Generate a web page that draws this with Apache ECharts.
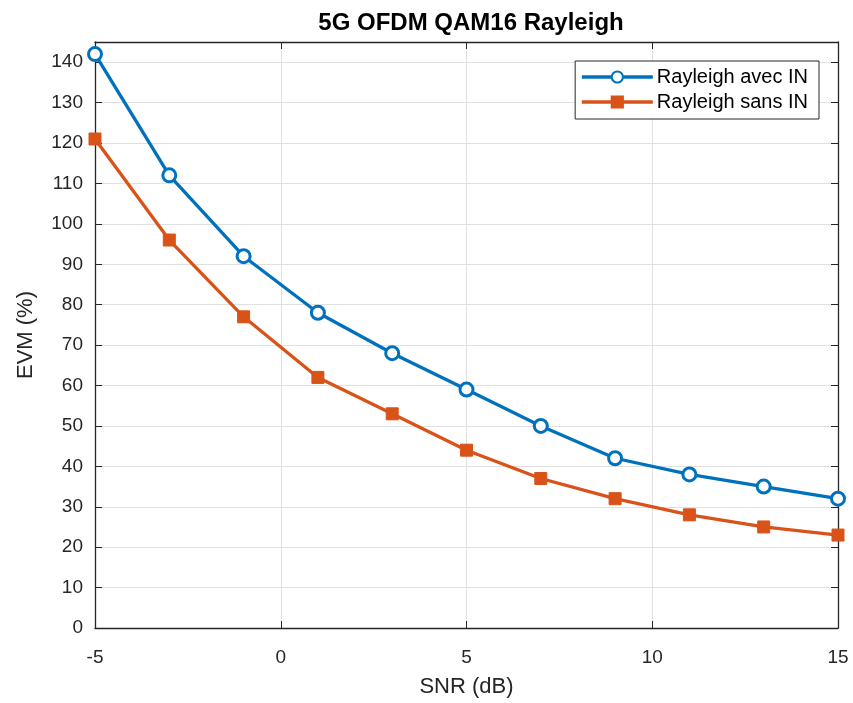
<!DOCTYPE html>
<html>
<head>
<meta charset="utf-8">
<script src="https://cdn.jsdelivr.net/npm/echarts@6/dist/echarts.min.js"></script>
<style>
  html, body { margin: 0; padding: 0; background: #fff; }
  #chart { width: 853px; height: 703px; }
</style>
</head>
<body>
<div id="chart"></div>
<script>
// SNR sample points (dB)
const snr = [-5, -3, -1, 1, 3, 5, 7, 9, 11, 13, 15];
// EVM (%) with and without impulsive noise
const evmAvecIN = [142, 112, 92, 78, 68, 59, 50, 42, 38, 35, 32];
const evmSansIN = [121, 96, 77, 62, 53, 44, 37, 32, 28, 25, 23];
const seriesNames = ['Rayleigh avec IN', 'Rayleigh sans IN'];

const FONT = '"Liberation Sans", Arial, Helvetica, sans-serif';
const AXIS_COLOR = '#262626';
const BLUE = '#0072BD';
const ORANGE = '#D95319';

const pairs = (xs, ys) => xs.map((x, i) => [x, ys[i]]);

const chart = echarts.init(document.getElementById('chart'), null, { renderer: 'canvas' });

const labelStyle = { color: AXIS_COLOR, fontFamily: FONT, fontSize: 19 };
const nameStyle = { fontFamily: FONT, fontSize: 22, color: AXIS_COLOR };
const boxLine = { show: true, onZero: false, lineStyle: { color: AXIS_COLOR, width: 1.3 } };
const innerTick = { show: true, inside: true, length: 7, lineStyle: { color: AXIS_COLOR } };
const grid = { show: true, lineStyle: { color: '#e0e0e0', width: 1 } };

chart.setOption({
  backgroundColor: '#fff',
  animation: false,
  title: {
    text: '5G OFDM QAM16 Rayleigh',
    left: 466,
    top: 6,
    textAlign: 'center',
    textStyle: { fontFamily: FONT, fontSize: 24, fontWeight: 'bold', color: '#000' }
  },
  grid: { left: 95, right: 15, top: 42, bottom: 74, containLabel: false },
  legend: {
    orient: 'vertical',
    right: 34,
    top: 61,
    padding: [6, 11, 7, 5],
    itemGap: 5,
    itemWidth: 71,
    itemHeight: 14,
    backgroundColor: '#fff',
    borderColor: '#262626',
    borderWidth: 1,
    borderRadius: 0,
    lineStyle: { width: 3.3 },
    textStyle: { fontFamily: FONT, fontSize: 20, color: '#000', padding: [0, 0, 0, -1] },
    data: seriesNames
  },
  xAxis: [{
    type: 'value',
    min: -5, max: 15, interval: 5,
    name: 'SNR (dB)',
    nameLocation: 'middle',
    nameGap: 48,
    nameTextStyle: nameStyle,
    axisLine: boxLine,
    axisTick: innerTick,
    axisLabel: Object.assign({ margin: 20 }, labelStyle),
    splitLine: grid
  }, {
    type: 'value',
    position: 'top',
    min: -5, max: 15, interval: 5,
    axisLine: boxLine,
    axisTick: innerTick,
    axisLabel: { show: false },
    splitLine: { show: false }
  }],
  yAxis: [{
    type: 'value',
    min: 0, max: 145, interval: 10,
    name: 'EVM (%)',
    nameLocation: 'middle',
    nameGap: 58,
    nameTextStyle: nameStyle,
    axisLine: boxLine,
    axisTick: innerTick,
    axisLabel: Object.assign({ margin: 12, showMaxLabel: false,
      formatter: v => (v % 10 === 0 ? String(v) : '') }, labelStyle),
    splitLine: grid
  }, {
    type: 'value',
    position: 'right',
    min: 0, max: 145, interval: 10,
    axisLine: boxLine,
    axisTick: innerTick,
    axisLabel: { show: false },
    splitLine: { show: false }
  }],
  series: [{
    name: seriesNames[0],
    type: 'line',
    data: pairs(snr, evmAvecIN),
    symbol: 'circle',
    symbolSize: 13,
    showAllSymbol: true,
    color: BLUE,
    lineStyle: { color: BLUE, width: 3.3 },
    itemStyle: { color: '#fff', borderColor: BLUE, borderWidth: 3 },
    z: 3
  }, {
    name: seriesNames[1],
    type: 'line',
    data: pairs(snr, evmSansIN),
    symbol: 'rect',
    symbolSize: 12,
    showAllSymbol: true,
    color: ORANGE,
    lineStyle: { color: ORANGE, width: 3.3 },
    itemStyle: { color: ORANGE, borderColor: ORANGE, borderWidth: 1 },
    z: 2
  }]
});
</script>
</body>
</html>
